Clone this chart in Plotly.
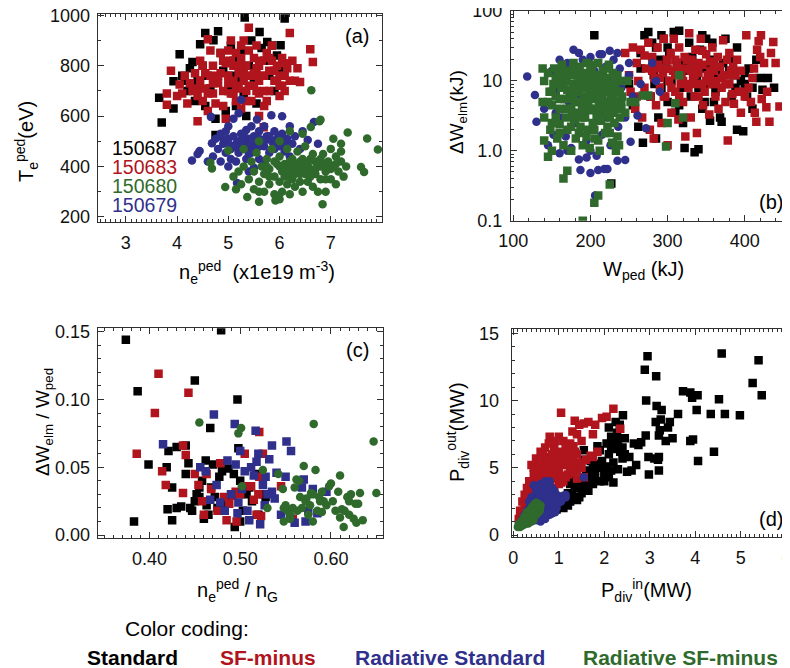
import plotly.graph_objects as go

# ---------------- colours / names ----------------
C_STD = "#000000"
C_SFM = "#B0141C"
C_RSTD = "#2F2F8C"
C_RSFM = "#2F6A2C"

shot_labels = ["150687", "150683", "150680", "150679"]
shot_colors = [C_STD, C_SFM, C_RSFM, C_RSTD]
coding_labels = ["Standard", "SF-minus", "Radiative Standard", "Radiative SF-minus"]
coding_colors = [C_STD, C_SFM, C_RSTD, C_RSFM]

# ---------------- panel (a): ne_ped vs Te_ped ----------------
a_std = [(3.65,673),(3.70,575),(3.93,630),(3.93,738),(4.05,845),(4.10,760),(4.20,700),(4.25,790),(4.30,815),(4.45,885),
         (4.40,740),(4.50,800),(4.55,640),(4.60,760),(4.65,710),(4.71,901),(4.75,525),(4.80,937),(4.75,590),(4.85,850),
         (4.90,780),(4.95,620),(5.00,700),(5.05,880),(5.10,820),(5.15,640),(5.20,740),(5.25,860),(5.32,991),(5.30,680),
         (5.40,800),(5.45,900),(5.50,745),(5.55,650),(5.61,934),(5.65,870),(5.70,820),(5.76,894),(5.80,760),(5.85,880),
         (5.90,700),(6.02,881),(6.10,987),(6.00,780),(5.95,840),(4.35,660),(4.15,740),(4.55,930),(5.35,600),(5.05,760)]
a_sfm = [(3.80,690),(3.80,645),(3.88,780),(4.00,680),(4.05,725),(4.10,690),(4.15,760),(4.20,650),(4.25,730),(4.30,700),
         (4.35,770),(4.40,580),(4.40,680),(4.45,740),(4.50,800),(4.50,660),(4.55,710),(4.60,905),(4.60,620),(4.65,860),
         (4.65,760),(4.70,690),(4.70,800),(4.75,650),(4.80,730),(4.85,850),(4.85,770),(4.90,700),(4.90,640),(4.95,810),
         (5.00,760),(5.00,860),(5.05,690),(5.05,900),(5.10,740),(5.10,800),(5.15,660),(5.15,850),(5.20,710),(5.20,770),
         (5.25,830),(5.25,630),(5.30,900),(5.30,740),(5.35,700),(5.35,800),(5.40,950),(5.40,860),(5.45,660),(5.45,760),
         (5.50,720),(5.50,830),(5.55,790),(5.55,880),(5.60,690),(5.60,740),(5.65,820),(5.70,760),(5.70,640),(5.75,850),
         (5.80,700),(5.80,780),(5.85,820),(5.90,740),(5.95,800),(6.00,680),(6.00,760),(6.05,830),(6.10,700),(6.15,790),
         (6.20,930),(6.20,740),(6.25,820),(6.30,740),(6.35,790),(6.40,735),(6.60,865),(6.65,815),(5.15,720),(5.69,556),
         (5.10,477),(4.95,590),(5.60,600),(5.75,660),(6.05,720),(4.45,820),(5.35,760),(5.85,880),
         (4.80,760),(4.90,820),(5.00,730),(5.10,690),(5.20,800),(5.30,770),(5.40,720),(5.50,770),(5.60,800),(5.70,700),
         (5.80,830),(5.90,780),(6.00,720),(6.10,760),(4.70,730),(4.60,690),(5.25,880),(5.55,700),(5.95,740),(6.10,810),
         (4.55,770),(4.40,710),(5.65,760),(5.35,660),(5.05,820)]
a_rstd = [(4.29,424),(4.44,462),(4.40,450),(4.68,492),(4.66,597),(4.60,420),(4.70,440),(4.75,510),(4.80,470),(4.85,530),
          (4.85,420),(4.90,490),(4.95,455),(5.00,510),(5.00,560),(5.05,470),(5.05,430),(5.10,520),(5.10,590),(5.15,490),
          (5.17,335),(5.20,611),(5.20,455),(5.25,530),(5.25,665),(5.30,500),(5.30,470),(5.35,545),(5.35,430),(5.40,510),
          (5.40,480),(5.45,560),(5.45,455),(5.50,520),(5.50,495),(5.56,587),(5.55,470),(5.60,540),(5.60,430),(5.65,505),
          (5.70,480),(5.70,560),(5.75,520),(5.80,455),(5.84,603),(5.85,500),(5.90,540),(5.90,470),(5.95,510),(6.00,480),
          (6.05,599),(6.05,530),(6.10,460),(6.15,510),(6.20,560),(6.25,490),(6.30,520),(6.40,470),(6.45,540),(6.55,505),
          (6.67,577),(6.75,490),(5.98,279),(5.50,395),(5.00,400),(5.40,380),(5.70,420),(6.20,440),(4.95,540),(5.15,420),
          (5.10,480),(5.20,500),(5.30,530),(5.40,450),(5.50,470),(5.60,510),(5.70,500),(5.80,520),(5.90,500),(6.00,520),
          (5.00,490),(4.90,510),(5.60,480),(5.45,505),(5.25,470),(6.10,490)]
a_rsfm = [(4.65,415),(4.68,392),(4.94,319),(5.00,464),(5.10,360),(5.15,310),(5.20,380),(5.25,330),(5.30,400),(5.37,279),
          (5.40,350),(5.45,420),(5.50,310),(5.50,380),(5.55,455),(5.60,340),(5.60,260),(5.65,400),(5.70,300),(5.70,370),
          (5.75,430),(5.80,330),(5.80,390),(5.85,470),(5.90,290),(5.90,360),(5.92,265),(5.95,410),(6.00,340),(6.00,440),
          (6.05,380),(6.05,300),(6.10,360),(6.10,410),(6.15,330),(6.15,470),(6.20,390),(6.20,290),(6.25,350),(6.25,430),
          (6.30,370),(6.30,320),(6.35,410),(6.35,460),(6.40,340),(6.40,390),(6.45,300),(6.45,430),(6.50,370),(6.50,480),
          (6.55,340),(6.55,410),(6.60,390),(6.62,703),(6.65,320),(6.65,450),(6.70,370),(6.70,420),(6.75,300),(6.78,580),
          (6.80,400),(6.80,350),(6.84,250),(6.85,450),(6.90,380),(6.90,300),(6.95,420),(7.00,470),(7.00,350),(7.05,400),
          (7.10,330),(7.10,440),(7.15,380),(7.20,460),(7.20,420),(7.25,360),(7.30,400),(7.33,535),(7.59,398),(7.65,378),
          (7.71,511),(7.92,468),(6.61,557),(6.80,586),(7.05,510),(7.20,490),(6.20,540),(6.00,500),(5.60,500),(5.30,470),
          (6.45,530),(6.00,270),(5.60,300),
          (6.00,400),(6.10,380),(6.20,360),(6.30,400),(6.40,420),(6.50,400),(6.60,360),(6.70,390),(6.80,430),(6.90,410),
          (7.00,390),(7.10,410),(5.90,420),(5.80,360),(6.20,420),(6.40,370),(6.60,430),(6.90,350),(5.75,400),(6.55,380)]

# ---------------- panel (b): W_ped vs dW_elm ----------------
b_std = [(205,45),(227,0.34),(255,4.5),(262,2.2),(268,1.3),(270,45),(275,50),(278,6),(282,12),(285,30),(288,3),(290,20),
         (292,8),(295,40),(298,15),(300,5),(302,25),(305,10),(308,50),(310,3.5),(312,18),(315,52),(318,8),(320,2.5),
         (322,1.1),(325,14),(328,35),(330,6),(332,22),(335,0.95),(338,11),(340,1.05),(342,28),(345,45),(348,5),(350,15),
         (352,9),(355,2.7),(358,35),(360,20),(362,7),(365,12),(368,3),(370,2.6),(372,18),(375,40),(378,9),(380,14),
         (383,6),(385,12),(388,8),(390,2),(395,10),(398,1.9),(400,9),(403,6),(405,15),(410,8),(415,20),(420,11),
         (423,7.5),(265,25),(283,9),(300,30),(330,15),(345,4),(360,5),(285,1.5),(315,4.5),(350,40),(292,45),(438,8),(430,11),
         (300,10),(320,18),(340,8),(360,12),(380,20),(400,13),(410,4),(390,30),(280,35),(265,15),(250,9)]
b_sfm = [(245,25),(250,12),(252,7),(255,30),(258,4),(260,18),(262,10),(265,28),(267,3),(270,8),(272,15),(275,35),(277,2),
         (278,6),(280,22),(282,1.5),(283,11),(285,4.5),(287,30),(288,17),(290,8),(292,2.5),(294,13),(295,40),(297,6),
         (299,20),(300,1.2),(302,10),(304,25),(305,3.5),(307,14),(308,40),(310,7),(312,18),(314,2.8),(315,30),(317,9),
         (318,12),(320,5),(322,22),(323,1.6),(325,15),(327,8),(328,48),(330,3),(331,20),(333,11),(335,6),(336,28),
         (338,1.8),(340,13),(341,9),(343,40),(345,17),(346,4.5),(348,7),(350,24),(352,12),(354,3.3),(355,19),(357,9),
         (358,30),(360,14),(362,6),(363,10),(365,22),(366,4),(368,16),(370,8),(372,38),(373,12),(375,5),(377,20),
         (378,1.4),(380,9),(382,14),(384,6.5),(386,4.7),(388,12),(390,20),(392,7),(395,3.5),(398,7),(400,6),(402,45),
         (405,8),(408,5),(410,11),(412,15),(413,3.5),(415,2.6),(416,28),(418,37),(420,22),(422,5.5),(425,18),(428,4.2),
         (260,6),(270,23),(290,15),(310,12),(335,16),(355,11),(330,9),(345,27),(380,25),(445,4.3),(440,18),(434,25),
         (437,36),(421,45),(429,7),(432,2.6),
         (300,15),(310,20),(320,10),(330,14),(340,18),(350,10),(360,17),(370,11),(305,8),(315,15),(325,20),(335,12),
         (345,9),(355,14),(365,16),(375,9),(385,16),(290,11),(280,14),(295,6),(315,6),(340,6),(360,9),(380,12),(395,14)]
b_rstd = [(118,11.6),(128,6.3),(130,2.6),(140,4),(145,1.2),(150,14),(152,1.7),(155,7),(160,20),(160,0.92),(162,3),
          (165,10),(168,1.6),(170,18),(172,5),(175,1.1),(178,28),(180,2.5),(182,12),(185,0.75),(187,0.53),(188,6),
          (190,20),(192,3.5),(195,1.4),(197,9),(200,0.48),(200,22),(202,2),(205,14),(206,0.23),(208,0.85),(210,0.53),
          (210,4),(212,24),(215,1.7),(217,8),(218,0.55),(220,16),(222,3),(222,0.55),(225,27),(226,1.2),(228,10),
          (230,20),(232,5),(235,0.72),(236,2.2),(238,15),(240,8),(245,0.74),(245,3),(250,18),(252,1.35),(255,6),
          (261,3.2),(265,9),(272,2.1),(280,18),(285,10),(290,7),(170,1),(185,25),(200,1),(215,24),(155,3.5),(235,25),
          (250,12),(195,0.8),(230,1.3)]
b_rsfm = [(138,15),(140,10),(138,5),(140,3),(140,1.4),(145,0.82),(145,13),(147,7),(148,2),(150,4.5),(150,1),(152,9),
          (153,15),(155,3),(155,6),(157,1.5),(158,12),(160,2.4),(160,4),(162,8),(163,17),(165,1.2),(165,0.4),(166,5.5),
          (168,3),(169,10),(170,0.52),(170,2),(172,14),(173,6.5),(175,4),(175,1),(177,9),(178,18),(179,2.8),(180,5),
          (181,1.5),(182,12),(184,7),(185,3.5),(186,16),(187,2.2),(188,9),(189,4.5),(190,0.1),(190,1.2),(191,6),(192,13),
          (193,3),(195,8),(195,18),(196,2),(197,5),(198,11),(199,1.1),(200,3.8),(201,7),(202,15),(203,2.5),(204,9),
          (205,0.18),(205,5.5),(206,1.5),(207,12),(208,3.2),(209,7.5),(210,0.23),(210,18),(211,4.5),(212,1),(213,10),
          (214,2.7),(215,6),(216,14),(217,3.5),(218,8),(219,1.8),(220,5),(221,11),(222,2.2),(223,7),(224,17),(225,0.33),
          (225,3),(226,9),(227,4.5),(228,1.3),(229,13),(230,6),(231,2.5),(232,9),(233,1),(234,4),(235,12),(236,7),
          (237,1.2),(238,3),(240,10),(240,5),(245,3.5),(248,10),(252,5),(258,5),(268,6.2),(275,6.2),(298,1.15),(300,2.5),
          (310,4.8),(320,3),(315,12),(160,5.5),(170,7.5),(185,10),(200,13),(215,9),(230,3.5),(180,3),(195,4),(205,2),(190,8),
          (165,8),(170,4),(175,12),(178,6),(183,5),(186,8),(190,3),(193,10),(196,6),(199,4),(202,9),(205,4),(208,6),
          (211,8),(214,4),(217,11),(220,7),(223,4),(226,6),(229,8),(232,11),(235,5),(238,7),(241,6),(160,10),(168,13),
          (176,3.5),(184,14),(192,5),(200,6),(208,10),(216,5),(224,9),(232,7),(240,4),(170,5.5),(180,8),(190,11),(200,8),
          (210,6),(220,3.5),(230,5),(150,7),(155,11),(145,5),(150,2.5),(160,1.8),(175,2.2),(185,1.8),(195,1.6),(210,1.4),
          (225,1.8),(235,1.6),(160,14),(178,16),(200,17),(222,15)]

# ---------------- panel (c): ne_ped/nG vs dW_elm/W_ped ----------------
c_std = [(0.374,0.144),(0.479,0.151),(0.387,0.106),(0.450,0.114),(0.497,0.100),(0.467,0.079),(0.399,0.052),(0.383,0.010),
         (0.425,0.011),(0.494,0.006),(0.430,0.065),(0.421,0.062),(0.419,0.050),(0.440,0.066),(0.425,0.035),(0.420,0.019),
         (0.430,0.020),(0.435,0.021),(0.440,0.045),(0.443,0.053),(0.447,0.018),(0.450,0.025),(0.452,0.030),(0.455,0.028),
         (0.458,0.040),(0.460,0.012),(0.462,0.055),(0.463,0.022),(0.465,0.015),(0.468,0.035),(0.470,0.052),(0.472,0.028),
         (0.475,0.020),(0.477,0.043),(0.480,0.047),(0.482,0.020),(0.487,0.049),(0.490,0.030),(0.493,0.045),(0.498,0.064),
         (0.500,0.010),(0.503,0.018),(0.507,0.030),(0.510,0.035),(0.513,0.025),(0.518,0.045),(0.520,0.015),(0.525,0.030),
         (0.528,0.028),(0.445,0.020),(0.455,0.035),(0.485,0.025),(0.500,0.040)]
c_sfm = [(0.410,0.119),(0.406,0.090),(0.443,0.105),(0.386,0.060),(0.414,0.047),(0.418,0.037),(0.437,0.031),(0.440,0.059),
         (0.437,0.066),(0.521,0.076),(0.505,0.060),(0.450,0.045),(0.454,0.037),(0.458,0.025),(0.460,0.015),(0.463,0.045),
         (0.468,0.034),(0.475,0.018),(0.478,0.053),(0.482,0.028),(0.485,0.011),(0.488,0.023),(0.492,0.029),(0.495,0.032),
         (0.496,0.010),(0.500,0.030),(0.507,0.036),(0.512,0.036),(0.515,0.026),(0.518,0.015),(0.520,0.030),(0.521,0.043),
         (0.523,0.014),(0.525,0.060),(0.545,0.036),(0.558,0.012)]
c_rstd = [(0.471,0.089),(0.494,0.082),(0.517,0.077),(0.415,0.067),(0.535,0.066),(0.551,0.069),(0.556,0.062),(0.456,0.050),
          (0.462,0.047),(0.467,0.026),(0.474,0.037),(0.478,0.024),(0.483,0.018),(0.486,0.055),(0.490,0.030),(0.495,0.052),
          (0.497,0.016),(0.498,0.024),(0.500,0.062),(0.502,0.034),(0.505,0.047),(0.508,0.018),(0.510,0.011),(0.512,0.050),
          (0.515,0.044),(0.518,0.054),(0.520,0.060),(0.522,0.008),(0.525,0.037),(0.527,0.022),(0.528,0.043),(0.530,0.030),
          (0.532,0.056),(0.535,0.032),(0.538,0.027),(0.540,0.046),(0.545,0.015),(0.550,0.043),(0.555,0.013),(0.560,0.009),
          (0.568,0.035),(0.570,0.041),(0.572,0.010),(0.575,0.018),(0.580,0.034),(0.585,0.016),(0.595,0.032)]
c_rsfm = [(0.455,0.083),(0.501,0.079),(0.498,0.075),(0.581,0.082),(0.647,0.069),(0.650,0.031),(0.614,0.006),(0.502,0.036),
          (0.525,0.048),(0.530,0.020),(0.542,0.045),(0.547,0.034),(0.548,0.010),(0.550,0.022),(0.552,0.018),(0.555,0.015),
          (0.558,0.020),(0.560,0.035),(0.562,0.041),(0.565,0.040),(0.566,0.028),(0.568,0.020),(0.570,0.051),(0.572,0.025),
          (0.575,0.015),(0.577,0.022),(0.580,0.010),(0.580,0.030),(0.583,0.048),(0.585,0.018),(0.587,0.028),(0.590,0.032),
          (0.590,0.017),(0.592,0.025),(0.595,0.022),(0.598,0.036),(0.600,0.038),(0.602,0.025),(0.605,0.018),(0.608,0.032),
          (0.610,0.044),(0.610,0.013),(0.612,0.019),(0.615,0.018),(0.618,0.028),(0.620,0.015),(0.620,0.025),(0.622,0.030),
          (0.625,0.012),(0.627,0.023),(0.628,0.009),(0.630,0.023),(0.632,0.031),(0.635,0.011),(0.548,0.020),(0.555,0.012),
          (0.563,0.018),(0.573,0.027),(0.578,0.031),(0.588,0.025)]

# ---------------- panel (d): P_div_in vs P_div_out ----------------
d_std = [(2.95,13.3),(2.89,12.3),(3.14,11.8),(4.58,13.5),(5.39,13.0),(5.26,11.3),(5.46,10.4),(3.73,10.7),(3.89,10.6),
         (4.05,10.4),(3.93,10.2),(4.52,10.1),(4.03,9.3),(4.34,9.0),(4.65,9.0),(4.98,8.9),(2.92,10.0),(3.15,9.6),(3.26,9.3),
         (3.62,9.0),(3.13,8.4),(3.24,8.6),(3.44,8.4),(3.40,8.0),(3.22,7.8),(2.91,7.4),(2.81,6.9),(3.20,7.4),(3.35,7.0),
         (3.50,7.2),(3.89,7.0),(3.95,7.1),(4.41,6.2),(4.06,5.5),(2.97,5.8),(3.10,5.7),(3.20,5.8),(3.18,5.6),(2.98,4.5),
         (3.20,4.8),(2.41,8.9),(2.34,8.2),(2.28,7.6),(2.20,7.0),(2.15,6.6),(2.25,6.4),(2.10,6.0),(2.35,6.2),(2.45,6.0),
         (2.40,5.7),(2.20,5.4),(2.05,5.1),(2.00,4.6),(2.15,4.8),(2.30,4.9),(2.50,4.7),(2.60,4.8),(2.70,5.2),(2.75,6.7),
         (2.65,6.8),(2.55,5.8),(1.85,6.6),(1.90,6.3),(1.80,5.3),(1.75,5.0),(1.70,4.6),(1.65,4.2),(1.60,3.8),(1.55,3.4),
         (1.50,3.1),(1.45,2.8),(1.40,2.6),(1.35,2.7),(1.30,3.0),(1.25,2.5),(1.20,2.2),(1.15,2.4),(1.10,2.0),(1.05,2.3),
         (1.00,2.1),(0.95,1.9),(1.40,3.5),(1.50,4.0),(1.60,4.8),(1.70,5.5),(1.80,4.4),(1.90,4.0),(2.00,4.0),(2.10,4.3),
         (2.20,3.9),(1.95,5.5),(2.05,6.8),(2.15,7.3),(1.55,6.3),(1.45,5.2),(1.55,5.6),(1.35,3.6),(1.25,3.8),(1.30,4.3),
         (1.20,3.1),(1.15,2.9),(2.30,7.0),(2.45,7.2),(2.40,6.5),(2.10,8.0),(2.25,8.4),(1.90,5.0),(1.65,3.3),(1.75,3.8)]
d_sfm = [(1.05,9.1),(2.20,9.4),(1.95,8.7),(2.05,8.8),(1.35,8.5),(1.55,8.3),(1.45,8.2),(1.65,8.4),(1.80,8.2),(0.80,7.3),
         (1.00,7.3),(1.10,7.0),(1.30,7.7),(1.40,7.5),(1.50,7.0),(1.75,7.5),(2.35,7.9),(1.85,6.2),(0.60,6.2),(0.70,5.8),
         (0.50,5.7),(0.40,5.2),(0.35,4.0),(0.25,3.0),(0.20,2.5),(0.15,1.8),(0.12,1.2),(0.45,4.5),(0.55,4.8),(0.65,5.2),
         (0.75,5.5),(0.85,6.0),(0.90,6.5),(0.95,5.0),(1.00,5.5),(1.05,6.2),(1.15,6.5),(1.20,5.8),(1.25,6.8),(1.30,5.4),
         (1.35,6.2),(1.40,4.8),(1.45,5.4),(1.50,5.0),(1.55,4.3),(1.60,5.6),(1.70,5.9),(1.75,5.8),(0.30,3.5),(0.40,3.2),
         (0.50,3.8),(0.60,4.2),(0.70,4.5),(0.80,4.8),(0.90,4.2),(1.00,4.6),(1.10,4.0),(1.20,4.5),(1.30,4.6),(1.00,3.8),
         (0.80,3.9),(0.60,3.5),(0.55,3.0),(0.45,2.8),(0.35,2.4),(0.30,2.0),(0.25,1.6),(0.20,1.3),(0.90,3.5),(1.10,5.2),
         (1.20,6.2),(0.70,6.5),(0.75,4.0),(0.85,5.0),(1.25,5.0),(1.15,4.3),(0.95,6.0),(0.65,3.8),(0.55,5.4),(0.40,4.0),
         (0.50,2.6),(0.35,3.0),(1.40,4.2),(1.05,3.9),(0.15,1.0),(0.28,2.7),(0.62,4.9),(0.78,6.8),(0.92,7.0),(1.12,6.0),
         (1.32,6.6),
         (0.25,2.2),(0.30,2.8),(0.40,3.6),(0.50,4.2),(0.60,4.6),(0.70,5.0),(0.80,5.3),(0.90,5.6),(1.00,6.0),(1.10,5.6),
         (1.20,5.2),(1.30,5.9),(1.40,6.0),(0.45,3.3),(0.55,3.6),(0.65,4.0),(0.75,4.4),(0.85,4.5),(0.95,4.8),(1.05,4.4),
         (0.20,1.8),(0.30,2.4),(0.65,6.0),(0.45,5.0)]
d_rstd = [(0.45,3.7),(1.55,4.3),(1.15,2.8),(1.15,3.0),(0.92,1.7),(0.70,4.0),(0.75,3.8),(0.80,3.6),(0.65,3.5),(0.60,3.2),
          (0.55,3.0),(0.50,2.8),(0.45,2.5),(0.40,2.3),(0.35,2.0),(0.30,1.8),(0.25,1.5),(0.20,1.2),(0.60,1.0),(0.70,1.2),
          (0.80,1.5),(0.85,1.9),(0.90,2.3),(0.85,2.8),(0.80,3.2),(0.75,2.5),(0.70,2.9),(0.65,2.2),(0.60,2.6),(0.55,1.9),
          (0.50,1.5),(0.45,1.2),(0.40,1.0),(0.35,1.3),(0.75,2.0),(0.65,1.6),(0.90,3.3),(0.95,2.6),(0.85,3.5),(1.00,2.9),
          (0.55,2.3),(0.48,2.0),(0.70,1.8),(0.80,2.3),(0.62,3.0),(0.72,3.3),(0.95,2.0),(1.05,2.5),(0.30,1.0),(0.50,1.1),
          (0.50,2.0),(0.60,2.0),(0.60,1.5),(0.70,2.4),(0.80,2.8),(0.70,3.6),(0.65,2.8),(0.75,3.0),(0.55,2.6),(0.85,2.4),
          (0.90,2.8),(0.45,1.8),(0.40,1.6),(0.35,1.6),(0.30,1.4),(0.25,1.2),(0.55,1.3),(0.65,1.2),(0.75,1.5),(0.85,1.6),
          (0.95,3.0),(1.00,2.4),(0.80,4.0),(0.60,3.8),(0.50,3.3),(0.40,2.8),(0.35,2.5)]
d_rsfm = [(0.10,0.6),(0.15,0.6),(0.20,0.7),(0.25,0.8),(0.30,0.9),(0.35,1.0),(0.40,1.1),(0.45,1.3),(0.50,1.5),(0.55,1.7),
          (0.58,2.0),(0.55,2.3),(0.50,2.4),(0.45,2.2),(0.40,2.0),(0.35,1.8),(0.30,1.5),(0.25,1.3),(0.20,1.1),(0.15,0.9),
          (0.12,0.8),(0.18,0.9),(0.22,1.0),(0.28,1.1),(0.32,1.2),(0.38,1.4),(0.42,1.6),(0.48,1.8),(0.52,2.0),(0.45,1.9),
          (0.40,1.7),(0.35,1.5),(0.30,1.3),(0.25,1.0),(0.50,2.2),(0.42,2.1),(0.55,1.9),(0.48,1.6),(0.38,1.2),(0.33,1.4),
          (0.27,1.2),(0.20,0.8),(0.15,0.7),(0.45,1.5),(0.53,2.3),(0.47,2.3),(0.58,1.8),
          (0.30,1.0),(0.35,1.2),(0.40,1.3),(0.45,1.7),(0.50,1.8),(0.52,1.6),(0.55,2.1),(0.42,1.85),(0.37,1.6),(0.30,1.7),
          (0.22,1.2),(0.18,1.0),(0.13,0.7),(0.25,1.4),(0.28,0.95),(0.33,0.85),(0.38,1.0),(0.44,1.1),(0.60,2.2)]

FONT = "Liberation Sans, Arial, Helvetica, sans-serif"
# the page body keeps its default 8px margin, so the figure is drawn 8px in from the top-left corner
OFF = 8
W, H = 790 - OFF, 668 - OFF

def px(x):
    return (x - OFF) / W

def py(y):
    return 1 - (y - OFF) / H

fig = go.Figure()

def add(pts, color, symbol, ax):
    xs = [p[0] for p in pts]
    ys = [p[1] for p in pts]
    fig.add_trace(go.Scatter(
        x=xs, y=ys, mode="markers", xaxis="x" + ax, yaxis="y" + ax, showlegend=False,
        marker=dict(color=color, symbol=symbol, size=8.5, line=dict(width=0)),
        cliponaxis=True, hoverinfo="skip"))

SQ, CI = "square", "circle"
add(a_std, C_STD, SQ, ""); add(a_sfm, C_SFM, SQ, ""); add(a_rstd, C_RSTD, CI, ""); add(a_rsfm, C_RSFM, CI, "")
add(b_std, C_STD, SQ, "2"); add(b_sfm, C_SFM, SQ, "2"); add(b_rstd, C_RSTD, CI, "2"); add(b_rsfm, C_RSFM, SQ, "2")
add(c_std, C_STD, SQ, "3"); add(c_sfm, C_SFM, SQ, "3"); add(c_rstd, C_RSTD, SQ, "3"); add(c_rsfm, C_RSFM, CI, "3")
add(d_std, C_STD, SQ, "4"); add(d_sfm, C_SFM, SQ, "4"); add(d_rstd, C_RSTD, CI, "4"); add(d_rsfm, C_RSFM, CI, "4")

LINE = "#303030"

def axis(domain, rng, dtick=None, minor_dtick=None, fmt=None, anchor=None, standoff=3, **kw):
    d = dict(domain=domain, range=rng, showline=True, linecolor=LINE, linewidth=1, mirror="allticks",
             ticks="inside", ticklen=6, tickcolor=LINE, tickwidth=1, showgrid=False, zeroline=False,
             automargin=False, ticklabeloverflow="allow",
             tickfont=dict(family=FONT, size=18, color="#111"), anchor=anchor, ticklabelstandoff=standoff)
    if dtick is not None:
        d["dtick"] = dtick
    if fmt:
        d["tickformat"] = fmt
    if minor_dtick is not None:
        d["minor"] = dict(dtick=minor_dtick, ticks="inside", ticklen=3, tickcolor=LINE, showgrid=False)
    d.update(kw)
    return d

fig.update_layout(
    template="none",
    width=W, height=H, margin=dict(l=0, r=0, t=0, b=0, pad=0),
    paper_bgcolor="white", plot_bgcolor="white",
    xaxis=axis([px(97.7), px(382)], [2.45, 8.0], 1, 0.1, anchor="y", standoff=4,
               tickmode="array", tickvals=[3, 4, 5, 6, 7], ticktext=["3", "4", "5", "6", "7"]),
    yaxis=axis([py(222), py(14)], [180, 1005], 200, 100, anchor="x", tick0=200),
    xaxis2=axis([px(511), px(789.5)], [97, 458], 100, 20, anchor="y2", standoff=4, tick0=100),
    yaxis2=axis([py(220.7), py(11)], [-1, 2.0], anchor="x2", type="log",
                tickvals=[0.1, 1, 10, 100], ticktext=["0.1", "1.0", "10", "100"], standoff=4),
    xaxis3=axis([px(97.7), px(382.7)], [0.343, 0.657], 0.1, 0.01, ".2f", anchor="y3", standoff=4, tick0=0.4),
    yaxis3=axis([py(538.3), py(328.3)], [-0.0024, 0.1525], 0.05, 0.01, ".2f", anchor="x3", tick0=0),
    xaxis4=axis([px(511.7), px(789.5)], [-0.035, 6.07], 1, 0.1, anchor="y4", standoff=4, tick0=0),
    yaxis4=axis([py(537.3), py(329.3)], [-0.17, 15.3], 5, 1, anchor="x4", standoff=8, tick0=0),
)

# log minor ticks for panel (b)
fig.layout.yaxis2.minor = dict(ticks="inside", ticklen=3, tickcolor=LINE, showgrid=False,
                               tickvals=[m * 10 ** e for e in (-1, 0, 1) for m in range(2, 10)])

ann = []
def text(x, y, s, size=17, color="black", angle=0, xanchor="center", bold=False):
    if bold:
        s = "<b>" + s + "</b>"
    ann.append(dict(x=px(x), y=py(y), xref="paper", yref="paper", text=s, showarrow=False,
                    xanchor=xanchor, yanchor="middle", textangle=angle,
                    font=dict(family=FONT, size=size, color=color)))

# panel labels
text(357, 36, "(a)", 20)
text(771, 202, "(b)", 20)
text(357, 350, "(c)", 20)
text(771, 519, "(d)", 20)

# axis titles
text(257, 272, "n<sub>e</sub><sup>ped</sup>  (x1e19 m<sup>-3</sup>)", 20)
text(27, 142, "T<sub>e</sub><sup>ped</sup>(eV)", 20, angle=-90)
text(643, 270, "W<sub>ped</sub> (kJ)", 20)
text(458, 112, "ΔW<sub>elm</sub>(kJ)", 19, angle=-90)
text(237, 590, "n<sub>e</sub><sup>ped</sup> / n<sub>G</sub>", 20)
text(44, 422, "ΔW<sub>elm</sub> / W<sub>ped</sub>", 19, angle=-90)
text(646, 590, "P<sub>div</sub><sup>in</sup>(MW)", 20)
text(457, 432, "P<sub>div</sub><sup>out</sup>(MW)", 20, angle=-90)

# shot legend inside panel (a)
for lab, col, yy in zip(shot_labels, shot_colors, [148, 167, 186, 205]):
    text(110, yy, lab, 19.5, col, xanchor="left")

# colour coding
text(187, 628, "Color coding:", 21)
for lab, col, xx in zip(coding_labels, coding_colors, [132, 268, 450, 680]):
    text(xx, 657, lab, 21, col, bold=True)

fig.update_layout(annotations=ann)
fig.write_html("out.html")
